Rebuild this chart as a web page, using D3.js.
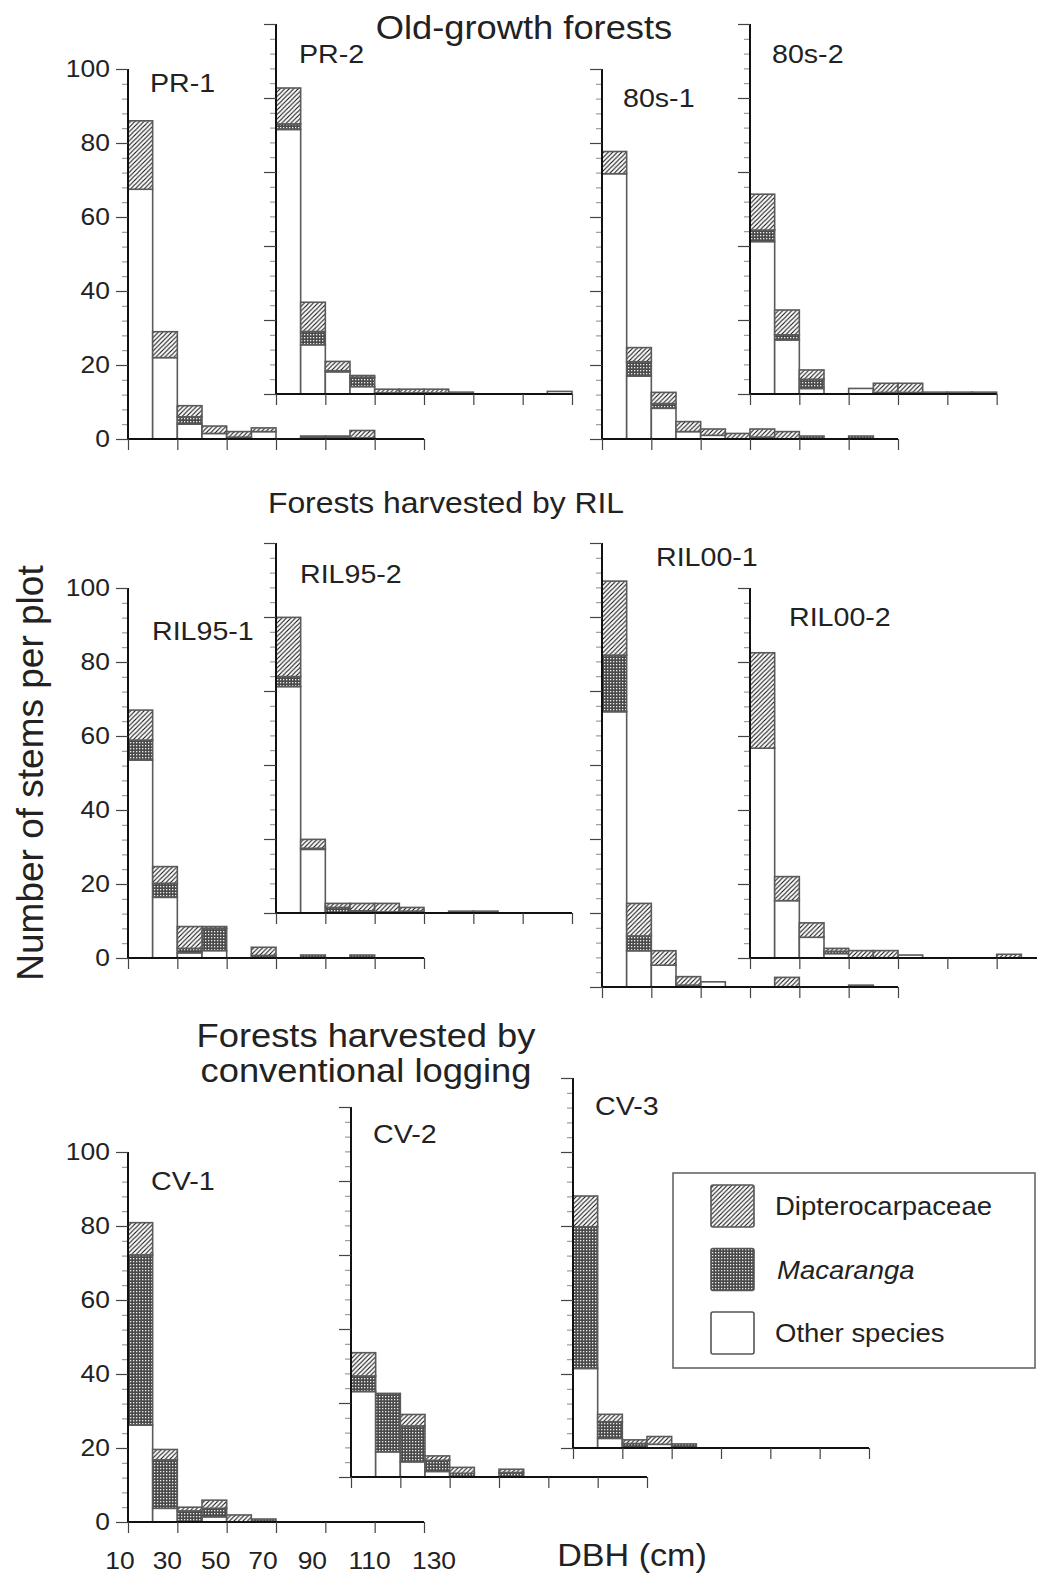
<!DOCTYPE html>
<html>
<head>
<meta charset="utf-8">
<script src="https://cdn.jsdelivr.net/npm/d3@7"></script>
<style>
  body { margin: 0; background: #fff; }
  text { font-family: "Liberation Sans", Arial, Helvetica, sans-serif; fill: #222; }
</style>
</head>
<body>
<div id="chart"></div>
<script>
// DBH classes, lower bound of each 10 cm class
const dbhClasses = [10, 20, 30, 40, 50, 60, 70, 80, 90, 100, 110, 120];
const plots = ["PR-1", "PR-2", "80s-1", "80s-2", "RIL95-1", "RIL95-2", "RIL00-1", "RIL00-2", "CV-1", "CV-2", "CV-3"];

// stems per plot, one row per plot (same order as plots)
const otherSpecies = [
    [67.5, 22, 4, 1.5, 0, 2, 0, 0.4, 0.4, 0.3, 0, 0],
    [71.5, 13.3, 6, 2, 0, 0.3, 0, 0.5, 0, 0, 0, 0.7],
    [71.7, 17, 8.3, 2, 1, 0, 0.5, 0, 0, 0, 0, 0],
    [41.2, 14.6, 1.5, 0, 1.5, 0.4, 0.4, 0.5, 0.5, 0.5, 0, 0],
    [53.5, 16.4, 1.4, 2, 0, 0, 0, 0, 0, 0, 0, 0],
    [61.2, 17.2, 0, 0, 0, 0.5, 0, 0.5, 0.5, 0, 0, 0],
    [74.4, 9.8, 5.9, 0.5, 1.4, 0, 0, 0, 0, 0, 0.5, 0],
    [56.7, 15.5, 5.6, 1.2, 0, 0, 0.8, 0, 0, 0, 0, 0],
    [26.2, 3.7, 0, 1.4, 0, 0, 0, 0, 0, 0, 0, 0],
    [23.1, 6.8, 4.1, 1.5, 0, 0, 0, 0, 0, 0, 0, 0],
    [21.5, 2.6, 0, 1, 0, 0, 0, 0, 0, 0, 0, 0]
];
const macaranga = [
    [0, 0, 2, 0, 0.5, 0, 0, 0.4, 0.4, 0, 0, 0],
    [1.5, 3.6, 0.3, 2.5, 0.3, 0, 0.3, 0, 0, 0, 0, 0],
    [0, 3.9, 1.3, 0, 0, 0, 0, 0, 0.8, 0, 0.8, 0],
    [3.1, 1.4, 2.5, 0, 0, 0, 0, 0, 0, 0, 0, 0],
    [5.4, 3.8, 1.2, 6, 0, 0.7, 0, 0.8, 0, 0.8, 0, 0],
    [2.7, 0.3, 1.5, 0.6, 0.3, 0, 0, 0, 0, 0, 0, 0],
    [15.3, 4, 0, 0, 0, 0, 0, 0, 0, 0, 0, 0],
    [0, 0, 0, 0.6, 0, 0, 0, 0, 0, 0, 0, 0],
    [46, 13.1, 3, 2.3, 0, 0.8, 0, 0, 0, 0, 0, 0],
    [4.2, 15.8, 9.7, 3, 1, 0, 1.2, 0, 0, 0, 0, 0],
    [38.3, 4.5, 1.2, 0, 1.1, 0, 0, 0, 0, 0, 0, 0]
];
const dipterocarp = [
    [18.5, 7, 3, 2, 1.5, 1, 0, 0, 0, 2, 0, 0],
    [9.7, 7.9, 2.5, 0.5, 1, 1, 1, 0, 0, 0, 0, 0],
    [6, 3.8, 3, 2.7, 1.7, 1.5, 2.2, 2, 0, 0, 0, 0],
    [9.7, 6.7, 2.5, 0, 0, 2.5, 2.5, 0, 0, 0, 0, 0],
    [8.1, 4.5, 5.9, 0.5, 0, 2.2, 0, 0, 0, 0, 0, 0],
    [16, 2.4, 1.1, 2, 2.3, 1, 0, 0, 0, 0, 0, 0],
    [20, 8.8, 3.9, 2.3, 0, 0, 0, 2.6, 0, 0, 0, 0],
    [25.8, 6.5, 3.9, 0.8, 2, 2, 0, 0, 0, 0, 1, 0],
    [8.7, 2.8, 1, 2.2, 1.9, 0, 0, 0, 0, 0, 0, 0],
    [6.3, 0, 3.1, 1.2, 1.6, 0, 0.9, 0, 0, 0, 0, 0],
    [8.3, 2, 1, 2.1, 0, 0, 0, 0, 0, 0, 0, 0]
];
const yTicks = [0, 20, 40, 60, 80, 100, 120];
const xTicks = [10, 30, 50, 70, 90, 110, 130];
const groupTitles = ["Old-growth forests", "Forests harvested by RIL", "Forests harvested by", "conventional logging"];
const legendLabels = ["Dipterocarpaceae", "Macaranga", "Other species"];

// where every small panel sits: origin (left, baseline), axis ends, label spot
const layout = [
    { x: 128, y: 439, top: 100, xEnd: 130, lx: 150, ly: 92, ticks: true },
    { x: 276, y: 394, top: 100, xEnd: 130, lx: 299, ly: 63 },
    { x: 602, y: 439, top: 100, xEnd: 130, lx: 623, ly: 107 },
    { x: 750, y: 394, top: 100, xEnd: 110, lx: 772, ly: 63 },
    { x: 128, y: 958, top: 100, xEnd: 130, lx: 152, ly: 640, ticks: true },
    { x: 276, y: 913, top: 100, xEnd: 130, lx: 300, ly: 583 },
    { x: 602, y: 987, top: 120, xEnd: 130, lx: 656, ly: 566 },
    { x: 750, y: 958, top: 100, xEnd: 130, lx: 789, ly: 626 },
    { x: 128, y: 1522, top: 100, xEnd: 130, lx: 151, ly: 1190, ticks: true, xLabels: true },
    { x: 351, y: 1477, top: 100, xEnd: 130, lx: 373, ly: 1143 },
    { x: 573, y: 1448, top: 100, xEnd: 130, lx: 595, ly: 1115 }
];
// the DBH labels under CV-1 sit a little off their ticks in the scan
const xLabelNudge = [-8, -10, -11, -13, -13, -5, 10];
const panelW = 296, unitH = 3.7, sx = 1.1;

const svg = d3.select("#chart").append("svg")
    .attr("width", 1037)
    .attr("height", 1578);

// fill patterns
const defs = svg.append("defs");
const hatch = defs.append("pattern").attr("id", "hatch")
    .attr("patternUnits", "userSpaceOnUse").attr("width", 4.5).attr("height", 4.5);
hatch.append("rect").attr("width", 4.5).attr("height", 4.5).attr("fill", "#fff");
hatch.append("path")
    .attr("d", "M-1,1 L1,-1 M0,4.5 L4.5,0 M3.5,5.5 L5.5,3.5")
    .attr("stroke", "#111").attr("stroke-width", 1.1);
const dots = defs.append("pattern").attr("id", "dots")
    .attr("patternUnits", "userSpaceOnUse").attr("width", 3).attr("height", 3);
dots.append("rect").attr("width", 3).attr("height", 3).attr("fill", "#4a4a4a");
dots.append("rect").attr("x", 1).attr("y", 1).attr("width", 1.3).attr("height", 1.3).attr("fill", "#eee");

const fills = { other: "#fff", macaranga: "url(#dots)", dipterocarp: "url(#hatch)" };
const stack = d3.stack().keys(["other", "macaranga", "dipterocarp"]);

// text that is a bit wider than tall, like the scan
function label(x, y, str, size, anchor, italic) {
    return svg.append("text")
        .attr("transform", "translate(" + x + "," + y + ") scale(" + sx + ",1)")
        .attr("font-size", size)
        .attr("text-anchor", anchor || "start")
        .attr("font-style", italic ? "italic" : null)
        .text(str);
}

plots.forEach(function (name, p) {
    const L = layout[p];
    const x = d3.scaleLinear().domain([10, 130]).range([L.x, L.x + panelW]);
    const y = d3.scaleLinear().domain([0, 100]).range([L.y, L.y - 100 * unitH]);

    const rows = dbhClasses.map(function (c, i) {
        return { dbh: c, other: otherSpecies[p][i], macaranga: macaranga[p][i], dipterocarp: dipterocarp[p][i] };
    });
    const g = svg.append("g").attr("class", "panel");

    stack(rows).forEach(function (layer) {
        g.selectAll(null)
            .data(layer.filter(function (d) { return d[1] - d[0] > 0; }))
            .enter().append("rect")
            .attr("x", function (d) { return x(d.data.dbh); })
            .attr("width", function (d) { return x(d.data.dbh + 10) - x(d.data.dbh); })
            .attr("y", function (d) { return y(d[1]); })
            .attr("height", function (d) { return y(d[0]) - y(d[1]); })
            .attr("fill", fills[layer.key])
            .attr("stroke", "#5a5a5a")
            .attr("stroke-width", 1.6);
    });

    // y axis: minor ticks every 4, major every 20
    const yMinor = d3.range(0, L.top + 1, 4).filter(function (v) { return v % 20 !== 0; });
    g.append("g")
        .attr("transform", "translate(" + L.x + ",0)")
        .call(d3.axisLeft(y).tickValues(yMinor).tickSize(6).tickSizeOuter(0).tickFormat(""))
        .call(function (a) { a.select(".domain").remove(); a.selectAll("line").attr("stroke", "#888"); });
    const yAx = g.append("g")
        .attr("transform", "translate(" + L.x + ",0)")
        .call(d3.axisLeft(y).tickValues(yTicks.filter(function (v) { return v <= L.top; }))
            .tickSize(12).tickSizeOuter(0).tickPadding(4.5)
            .tickFormat(L.ticks ? d3.format("d") : ""));
    yAx.select(".domain").attr("d", "M0," + y(0) + "V" + y(L.top)).attr("stroke", "#111").attr("stroke-width", 2);
    yAx.selectAll("line").attr("stroke", "#444").attr("stroke-width", 1.2);
    yAx.selectAll("text").attr("font-size", 24).attr("fill", "#333")
        .attr("font-family", "'Liberation Sans', Arial, sans-serif")
        .attr("transform", "scale(" + sx + ",1)");

    // x axis
    const xAx = g.append("g")
        .attr("transform", "translate(0," + L.y + ")")
        .call(d3.axisBottom(x).tickValues(xTicks.filter(function (v) { return v <= L.xEnd; }))
            .tickSize(11).tickSizeOuter(0).tickFormat(""));
    xAx.select(".domain").attr("d", "M" + x(10) + ",0H" + x(L.xEnd))
        .attr("stroke", "#111").attr("stroke-width", 2);
    xAx.selectAll("line").attr("stroke", "#444").attr("stroke-width", 1.2);

    if (L.xLabels) {
        xTicks.forEach(function (t, i) {
            label(x(t) + xLabelNudge[i], 1569, String(t), 24, "middle").attr("fill", "#333");
        });
    }

    label(L.lx, L.ly, name, 26, "start");
});

// group titles
label(524, 39, groupTitles[0], 33, "middle");
label(446, 513, groupTitles[1], 29, "middle");
label(366, 1047, groupTitles[2], 33, "middle");
label(366, 1082, groupTitles[3], 33, "middle");

// axis titles
label(632, 1566, "DBH (cm)", 31, "middle");
svg.append("text")
    .attr("transform", "translate(43,773) rotate(-90)")
    .attr("font-size", 37)
    .attr("text-anchor", "middle")
    .text("Number of stems per plot");

// legend
const legend = svg.append("g");
legend.append("rect")
    .attr("x", 673).attr("y", 1173).attr("width", 362).attr("height", 195)
    .attr("fill", "#fff").attr("stroke", "#666").attr("stroke-width", 1.6);
const legendFills = [fills.dipterocarp, fills.macaranga, fills.other];
legendLabels.forEach(function (t, i) {
    const cy = 1206 + i * 63.5;
    legend.append("rect")
        .attr("x", 711).attr("y", cy - 21).attr("width", 43).attr("height", 42).attr("rx", 2)
        .attr("fill", legendFills[i]).attr("stroke", "#555").attr("stroke-width", 1.6);
    label(i === 1 ? 777 : 775, cy + 9, t, 25, "start", i === 1);
});
</script>
</body>
</html>
